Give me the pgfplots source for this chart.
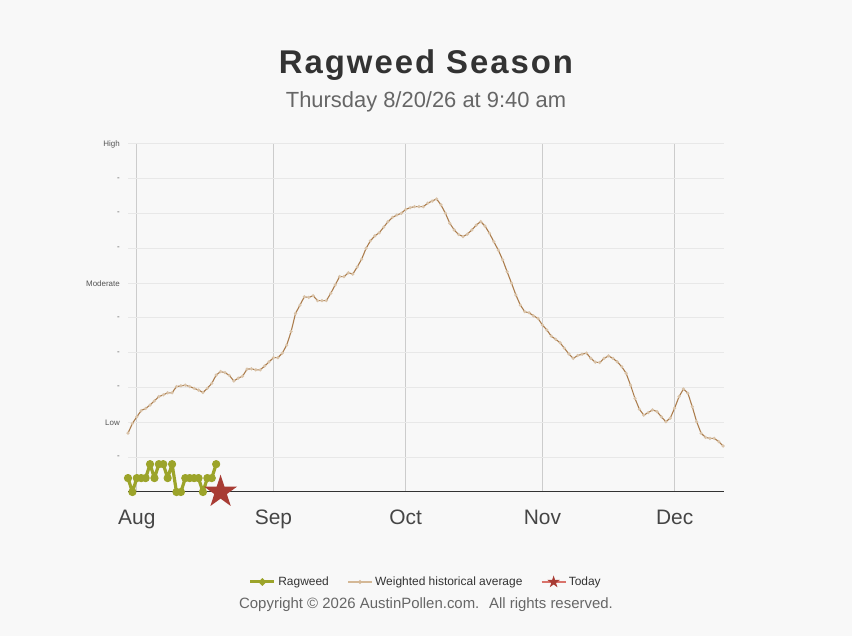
\documentclass[border=0pt]{standalone}
\usepackage{fontspec}
\setmainfont{Liberation Sans}
\usepackage{pgfplots}
\usepackage{pgfplotstable}
\pgfplotsset{compat=1.18}
\definecolor{bg}{HTML}{F8F8F8}
\definecolor{titlec}{HTML}{333333}
\definecolor{subc}{HTML}{666666}
\definecolor{ragc}{RGB}{156,164,42}
\definecolor{histc}{RGB}{172,126,78}
\definecolor{histmark}{RGB}{218,196,170}
\definecolor{histleg}{RGB}{212,184,150}
\definecolor{todayc}{RGB}{168,60,52}
\definecolor{todayleg}{RGB}{217,115,107}
\definecolor{vgrid}{HTML}{CCCCCC}
\definecolor{hgrid}{HTML}{E8E8E8}
\definecolor{axisdark}{HTML}{333333}

\pgfdeclareplotmark{fstar}{%
  \pgfpathmoveto{\pgfpointpolar{90}{\pgfplotmarksize}}%
  \pgfpathlineto{\pgfpointpolar{126}{0.382\pgfplotmarksize}}%
  \pgfpathlineto{\pgfpointpolar{162}{\pgfplotmarksize}}%
  \pgfpathlineto{\pgfpointpolar{198}{0.382\pgfplotmarksize}}%
  \pgfpathlineto{\pgfpointpolar{234}{\pgfplotmarksize}}%
  \pgfpathlineto{\pgfpointpolar{270}{0.382\pgfplotmarksize}}%
  \pgfpathlineto{\pgfpointpolar{306}{\pgfplotmarksize}}%
  \pgfpathlineto{\pgfpointpolar{342}{0.382\pgfplotmarksize}}%
  \pgfpathlineto{\pgfpointpolar{18}{\pgfplotmarksize}}%
  \pgfpathlineto{\pgfpointpolar{54}{0.382\pgfplotmarksize}}%
  \pgfpathclose
  \pgfusepathqfill}

\pgfplotstableread{
d v
-2 1.69
-1 1.97
0 2.16
1 2.34
2 2.40
3 2.50
4 2.62
5 2.74
6 2.79
7 2.85
8 2.85
9 3.03
10 3.05
11 3.07
12 3.03
13 2.98
14 2.93
15 2.86
16 2.98
17 3.12
18 3.36
19 3.46
20 3.43
21 3.35
22 3.19
23 3.27
24 3.33
25 3.53
26 3.54
27 3.51
28 3.51
29 3.62
30 3.74
31 3.86
32 3.86
33 3.99
34 4.22
35 4.61
36 5.13
37 5.37
38 5.61
39 5.59
40 5.64
41 5.50
42 5.50
43 5.50
44 5.71
45 5.95
46 6.19
47 6.19
48 6.30
49 6.26
50 6.47
51 6.69
52 7.00
53 7.22
54 7.36
55 7.45
56 7.61
57 7.77
58 7.89
59 7.96
60 8.01
61 8.12
62 8.17
63 8.20
64 8.20
65 8.20
66 8.30
67 8.36
68 8.42
69 8.25
70 8.01
71 7.72
72 7.53
73 7.40
74 7.34
75 7.41
76 7.53
77 7.67
78 7.77
79 7.64
80 7.43
81 7.19
82 6.95
83 6.67
84 6.33
85 6.00
86 5.66
87 5.37
88 5.18
89 5.15
90 5.06
91 4.99
92 4.80
93 4.66
94 4.48
95 4.39
96 4.29
97 4.13
98 3.97
99 3.84
100 3.92
101 3.96
102 3.99
103 3.84
104 3.73
105 3.72
106 3.84
107 3.91
108 3.84
109 3.74
110 3.60
111 3.41
112 3.07
113 2.69
114 2.38
115 2.21
116 2.28
117 2.36
118 2.31
119 2.16
120 2.02
121 2.12
122 2.41
123 2.74
124 2.96
125 2.84
126 2.45
127 2.02
128 1.69
129 1.57
130 1.54
131 1.54
132 1.45
133 1.32
}\histtable

\pgfplotstableread{
d v
-2 0.4
-1 0
0 0.4
1 0.4
2 0.4
3 0.8
4 0.4
5 0.8
6 0.8
7 0.4
8 0.8
9 0
10 0
11 0.4
12 0.4
13 0.4
14 0.4
15 0
16 0.4
17 0.4
18 0.8
}\ragtable

\begin{document}
\begin{tikzpicture}
\fill[bg] (0bp,0bp) rectangle (852bp,636bp);
\useasboundingbox (0bp,0bp) rectangle (852bp,636bp);
\node[anchor=base, inner sep=0pt, text=titlec, font=\fontsize{33}{36}\selectfont\bfseries\addfontfeatures{LetterSpace=6}] at (426bp,562.7bp) {Ragweed Season};
\node[anchor=base, inner sep=0pt, text=subc, font=\fontsize{22}{26}\selectfont] at (426bp,528.3bp) {Thursday 8/20/26 at 9:40 am};
\node[anchor=base, inner sep=0pt, text=subc, font=\fontsize{15}{18}\selectfont] at (426bp,27.7bp) {Copyright © 2026 AustinPollen.com.~ All rights reserved.};
\begin{axis}[
  at={(128bp,144bp)}, anchor=south west,
  scale only axis, width=596bp, height=348bp,
  xmin=-2, xmax=133.2, ymin=0, ymax=10,
  clip=false,
  axis line style={draw=none},
  tick style={draw=none},
  major tick length=0pt,
  xtick={0,31,61,92,122},
  xticklabels={Aug,Sep,Oct,Nov,Dec},
  ytick={1,2,3,4,5,6,7,8,9,10},
  yticklabels={-,Low,-,-,-,Moderate,-,-,-,High},
  xmajorgrids, ymajorgrids,
  x grid style={vgrid, line width=1bp},
  y grid style={hgrid, line width=1bp},
  xticklabel style={font=\fontsize{21}{24}\selectfont, text=black!73, inner sep=0pt, yshift=-18bp},
  yticklabel style={font=\fontsize{8}{9}\selectfont, text=black!67, inner sep=0pt, xshift=-8bp},
  legend image code/.code={\draw[mark repeat=2,mark phase=2,#1] plot coordinates {(0bp,0bp) (12bp,0bp) (24bp,0bp)};},
  legend style={at={(0.5,-0.2586)}, anchor=center, draw=none, fill=none,
    legend columns=-1, font=\fontsize{12}{14}\selectfont, text=black!80,
    nodes={inner sep=2.5bp},
    /tikz/every even column/.append style={column sep=16bp}},
]
\draw[axisdark, line width=1bp] (axis cs:-2,0) -- (axis cs:133.2,0);
\addlegendimage{ragc, line width=3bp, mark=*, mark size=1.8bp, mark options={solid, fill=ragc, draw=ragc}}
\addlegendentry{Ragweed}
\addlegendimage{histleg, line width=1.3bp, mark=*, mark size=1.2bp, mark options={fill=histleg, draw=histleg}}
\addlegendentry{Weighted historical average}
\addlegendimage{todayleg, line width=1.3bp, mark=fstar, mark size=6.5bp, mark options={fill=todayc, draw=todayc}}
\addlegendentry{Today}
\addplot[histmark, only marks, mark=*, mark size=1.2bp, mark options={fill=histmark, draw=histmark, line width=0.8bp}, forget plot] table[x=d, y=v] {\histtable};
\addplot[histc, line width=1.1bp, no marks, forget plot] table[x=d, y=v] {\histtable};
\addplot[ragc, line width=3.2bp, line join=round, mark=*, mark size=3.6bp, mark options={fill=ragc, draw=ragc, line width=1bp}, forget plot] table[x=d, y=v] {\ragtable};
\addplot[todayc, only marks, mark=fstar, mark size=17.3bp, mark options={fill=todayc, draw=todayc}, forget plot] coordinates {(19,0)};
\end{axis}
\end{tikzpicture}
\end{document}
